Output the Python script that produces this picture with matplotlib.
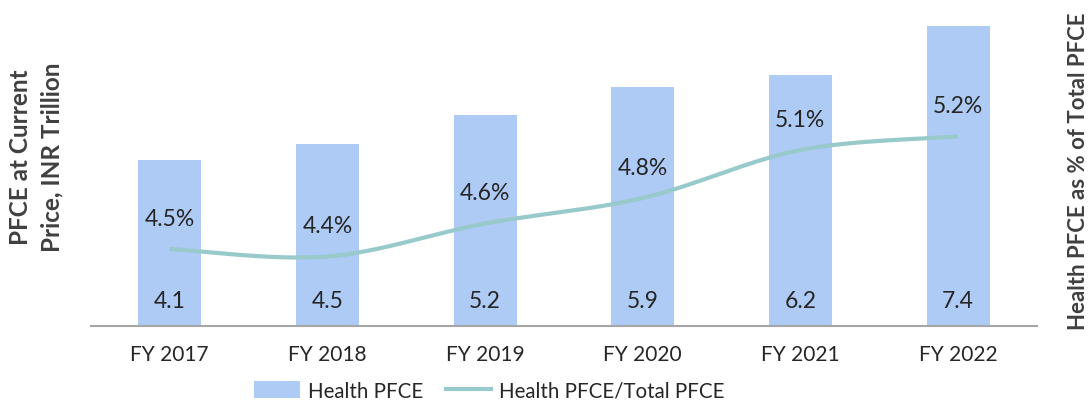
import matplotlib
matplotlib.use("Agg")
import matplotlib.pyplot as plt
from matplotlib.patches import Patch
from matplotlib.lines import Line2D
import numpy as np

# Data
years = ["FY 2017", "FY 2018", "FY 2019", "FY 2020", "FY 2021", "FY 2022"]
health_pfce = [4.1, 4.5, 5.2, 5.9, 6.2, 7.4]          # INR trillion
health_share = [4.47, 4.42, 4.64, 4.81, 5.13, 5.22]   # % of total PFCE

bar_color = "#AECBF5"
line_color = "#98C9CB"
text_color = "#262626"
title_color = "#404040"


def smooth_curve(xs, ys, n=40):
    """Catmull-Rom style smoothing, similar to a spreadsheet 'smoothed line'."""
    xs = np.asarray(xs, float)
    ys = np.asarray(ys, float)
    pts = np.column_stack([xs, ys])
    tang = np.zeros_like(pts)
    tang[1:-1] = (pts[2:] - pts[:-2]) / 2
    tang[0] = (pts[1] - pts[0]) / 2
    tang[-1] = (pts[-1] - pts[-2]) / 2
    out = []
    t = np.linspace(0, 1, n)[:, None]
    h00 = 2 * t**3 - 3 * t**2 + 1
    h10 = t**3 - 2 * t**2 + t
    h01 = -2 * t**3 + 3 * t**2
    h11 = t**3 - t**2
    for i in range(len(pts) - 1):
        seg = h00 * pts[i] + h10 * tang[i] + h01 * pts[i + 1] + h11 * tang[i + 1]
        out.append(seg if i == 0 else seg[1:])
    out = np.vstack(out)
    return out[:, 0], out[:, 1]


plt.rcParams["font.family"] = ["Lato", "DejaVu Sans"]

fig = plt.figure(figsize=(10.88, 4.06), dpi=100)
ax = fig.add_axes([0.0836, 0.1946, 0.8694, 0.7808])
x = np.arange(len(years))

ax.bar(x, health_pfce, width=0.4, color=bar_color, zorder=2)
ax.set_xlim(-0.5, len(years) - 0.5)
ax.set_ylim(0, 7.83)
ax.set_yticks([])
for side in ["top", "right", "left"]:
    ax.spines[side].set_visible(False)
ax.spines["bottom"].set_color("#A6A6A6")
ax.spines["bottom"].set_linewidth(1.5)
ax.set_xticks(x)
ax.set_xticklabels(years, fontsize=15, color=text_color)
ax.tick_params(axis="x", length=0, pad=13)

for xi, v in zip(x, health_pfce):
    ax.annotate(f"{v:.1f}", (xi, 0), xytext=(0, 25), textcoords="offset pixels",
                ha="center", va="center", fontsize=16.5, color=text_color, zorder=4)

ax2 = ax.twinx()
ax2.set_ylim(3.957, 6.07)
ax2.set_yticks([])
for side in ["top", "right", "left", "bottom"]:
    ax2.spines[side].set_visible(False)

sx, sy = smooth_curve(x, health_share)
ax2.plot(sx, sy, color=line_color, linewidth=3, solid_capstyle="butt", zorder=3)
for xi, v in zip(x, health_share):
    ax2.annotate(f"{v:.1f}%", (xi, v), xytext=(0, 31), textcoords="offset pixels",
                 ha="center", va="center", fontsize=16.5, color=text_color)

fig.text(0.019, 0.613, "PFCE at Current", rotation=90, ha="center", va="center",
         fontsize=17.5, fontweight="bold", color=title_color)
fig.text(0.048, 0.613, "Price, INR Trillion", rotation=90, ha="center", va="center",
         fontsize=17.5, fontweight="bold", color=title_color)
fig.text(0.991, 0.579, "Health PFCE as % of Total PFCE", rotation=90, ha="center",
         va="center", fontsize=16, fontweight="bold", color=title_color)

handles = [Patch(facecolor=bar_color, edgecolor="none"),
           Line2D([0], [0], color=line_color, linewidth=3)]
fig.legend(handles, ["Health PFCE", "Health PFCE/Total PFCE"], loc="center",
           bbox_to_anchor=(0.450, 0.035), ncol=2, frameon=False, fontsize=14.8,
           handlelength=2.2, handleheight=0.9, handletextpad=0.4, columnspacing=1.1,
           labelcolor=text_color)

fig.savefig("out.png", dpi=100)
